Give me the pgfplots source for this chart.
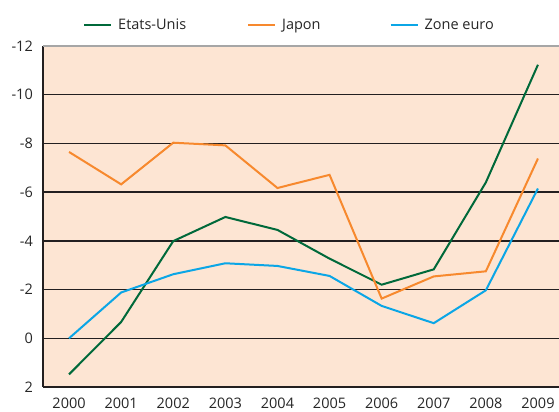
\documentclass[border=0pt]{standalone}
\usepackage{fontspec}
\setmainfont{Open Sans}
\usepackage{pgfplots}
\pgfplotsset{compat=1.18}
\definecolor{cgreen}{HTML}{00693A}
\definecolor{corange}{HTML}{F7892E}
\definecolor{cblue}{HTML}{0BA6E6}
\definecolor{cbg}{HTML}{FDE5D3}
\definecolor{cgrid}{HTML}{231F20}
\begin{document}
\fontsize{14bp}{16bp}\selectfont
\begin{tikzpicture}
\begin{axis}[
  at={(0,0)}, anchor=south west,
  scale only axis,
  width=521bp, height=341bp,
  xmin=-0.5, xmax=9.5,
  ymin=-12, ymax=2,
  y dir=reverse,
  axis background/.style={fill=cbg},
  axis x line*=bottom, axis y line*=left,
  axis line style={cgrid, line width=1.2bp},
  xtick={0,...,9},
  xticklabels={2000,2001,2002,2003,2004,2005,2006,2007,2008,2009},
  ytick={-12,-10,-8,-6,-4,-2,2},
  extra y ticks={0},
  extra y tick style={grid style={corange, line width=1bp}},
  major tick length=0pt,
  /pgf/number format/assume math mode=true,
  xticklabel style={inner sep=0pt, anchor=north, yshift=-11bp, font=\fontsize{14.5bp}{16bp}\selectfont, text=black!85},
  yticklabel style={inner sep=0pt, anchor=east, xshift=-10bp, font=\fontsize{14.5bp}{16bp}\selectfont, text=black!85},
  ymajorgrids,
  major grid style={cgrid, line width=1.3bp},
  legend columns=3,
  legend style={at={(0,1)}, anchor=west, xshift=40bp, yshift=21bp, draw=none, fill=none, inner sep=0pt,
    font=\fontsize{14.5bp}{16bp}\selectfont, text=black!85,
    /tikz/column 2/.style={column sep=59bp},
    /tikz/column 4/.style={column sep=67bp}},
  legend image code/.code={\draw[#1] (0bp,0bp) -- (27bp,0bp); \path (31bp,0bp);},
  clip=false,
]
\addplot[cgreen, line width=2bp] coordinates {
(0,1.48) (1,-0.67) (2,-3.99) (3,-4.98) (4,-4.45) (5,-3.27) (6,-2.2) (7,-2.83) (8,-6.4) (9,-11.23)};
\addlegendentry{Etats-Unis}
\addplot[corange, line width=2bp] coordinates {
(0,-7.65) (1,-6.32) (2,-8.03) (3,-7.92) (4,-6.17) (5,-6.71) (6,-1.63) (7,-2.54) (8,-2.75) (9,-7.38)};
\addlegendentry{Japon}
\addplot[cblue, line width=2bp] coordinates {
(0,0) (1,-1.88) (2,-2.63) (3,-3.08) (4,-2.97) (5,-2.56) (6,-1.33) (7,-0.62) (8,-1.97) (9,-6.15)};
\addlegendentry{Zone euro}
\end{axis}
\draw[gray!70, line width=1.2bp] (0bp,341bp) -- (521bp,341bp);
\pgfresetboundingbox
\useasboundingbox (-43bp,-25bp) rectangle (516bp,387bp);
\end{tikzpicture}
\end{document}
